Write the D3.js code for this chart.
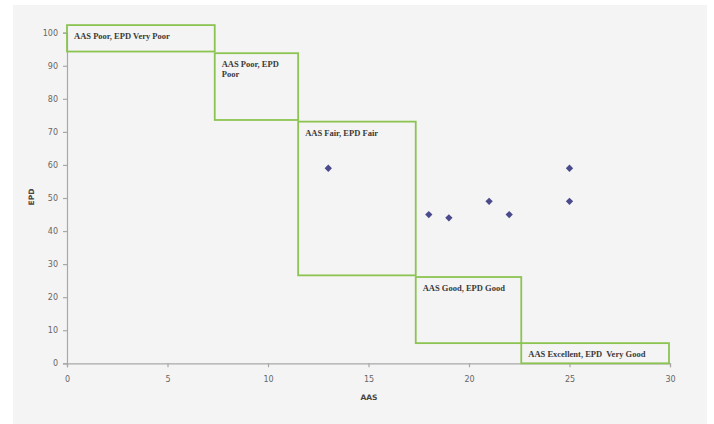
<!DOCTYPE html>
<html><head><meta charset="utf-8">
<script src="https://cdn.jsdelivr.net/npm/d3@7"></script>
<style>body{margin:0;background:#fff;}</style>
</head><body>
<svg id="c" width="714" height="424"></svg>
<script>
const xTicks = [0,5,10,15,20,25,30];
const yTicks = [0,10,20,30,40,50,60,70,80,90,100];
const pointsX = [13,18,19,21,22,25,25];
const pointsY = [59,45,44,49,45,59,49];
const zoneLabels = [["AAS Poor, EPD Very Poor"],["AAS Poor, EPD","Poor"],["AAS Fair, EPD Fair"],["AAS Good, EPD Good"],["AAS Excellent, EPD  Very Good"]];
const zoneX0 = [0,7.35,11.5,17.35,22.6];
const zoneX1 = [7.35,11.5,17.35,22.6,29.95];
const zoneY0 = [94.3,73.6,26.6,6.1,0];
const zoneY1 = [102.3,93.8,73.1,26.1,6.1];

const svg = d3.select("#c");
svg.append("rect").attr("x",13).attr("y",5).attr("width",694).attr("height",419).attr("fill","#f4f4f4");
const x = d3.scaleLinear().domain([0,30]).range([67,670]);
const y = d3.scaleLinear().domain([0,100]).range([363.3,32.7]);

const xa = svg.append("g").attr("transform","translate(0,363.3)")
  .call(d3.axisBottom(x).tickValues(xTicks).tickSize(4).tickPadding(9));
const ya = svg.append("g").attr("transform","translate(67,0)")
  .call(d3.axisLeft(y).tickValues(yTicks).tickSize(4).tickPadding(5));
[xa,ya].forEach(a=>{
  a.selectAll("path,line").attr("stroke","#a8a8a8").attr("stroke-width",1.2);
  a.selectAll("text").attr("fill","#666").style("font-family","DejaVu Sans").style("font-size","8px");
});

const zones = zoneX0.map((d,i)=>({x0:d,x1:zoneX1[i],y0:zoneY0[i],y1:zoneY1[i],lab:zoneLabels[i]}));
svg.selectAll("rect.z").data(zones).enter().append("rect").attr("class","z")
  .attr("x",d=>x(d.x0)).attr("y",d=>y(d.y1))
  .attr("width",d=>x(d.x1)-x(d.x0)).attr("height",d=>y(d.y0)-y(d.y1))
  .attr("fill","none").attr("stroke","#8cc452").attr("stroke-width",1.8);
zones.forEach(d=>{
  const t = svg.append("text").attr("x",x(d.x0)+7).attr("y",y(d.y1)+14)
    .style("font-family","Liberation Serif").style("font-size","8.5px").style("font-weight","bold")
    .style("white-space","pre").attr("fill","#3a3a3a");
  d.lab.forEach((l,j)=>t.append("tspan").attr("x",x(d.x0)+7).attr("dy",j?10:0).text(l));
});

const pts = pointsX.map((d,i)=>[d,pointsY[i]]);
svg.selectAll("path.p").data(pts).enter().append("path").attr("class","p")
  .attr("d",d3.symbol(d3.symbolDiamond2,34))
  .attr("transform",d=>`translate(${x(d[0])},${y(d[1])})`)
  .attr("fill","#4a4a8c");

svg.append("text").attr("transform","translate(34,197) rotate(-90)").attr("text-anchor","middle")
  .style("font-family","DejaVu Sans").style("font-size","7.5px").style("font-weight","bold").attr("fill","#444").text("EPD");
svg.append("text").attr("x",369).attr("y",400).attr("text-anchor","middle")
  .style("font-family","DejaVu Sans").style("font-size","7.5px").style("font-weight","bold").attr("fill","#444").text("AAS");
</script>
</body></html>
